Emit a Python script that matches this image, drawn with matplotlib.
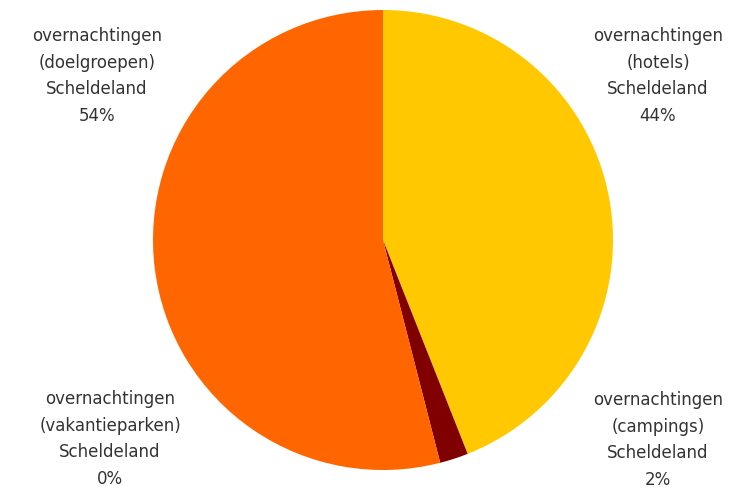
import matplotlib.pyplot as plt

# shares of overnachtingen Scheldeland, clockwise from the top
labels = ['overnachtingen\n(hotels)\nScheldeland',
          'overnachtingen\n(campings)\nScheldeland',
          'overnachtingen\n(vakantieparken)\nScheldeland',
          'overnachtingen\n(doelgroepen)\nScheldeland']
values = [44, 2, 0, 54]
colors = ['#FFC800', '#800000', '#FF9900', '#FF6600']

W, H = 743, 495
fig = plt.figure(figsize=(W / 100, H / 100), dpi=100)

cx, cy, r = 383, 240, 230
ax = fig.add_axes([(cx - r) / W, (H - cy - r) / H, 2 * r / W, 2 * r / H])
ax.pie(values, colors=colors, startangle=90, counterclock=False,
       wedgeprops={'linewidth': 0})
ax.set_aspect('equal')
ax.set_xlim(-1, 1)
ax.set_ylim(-1, 1)

# label block centres in pixels (x, y from top)
label_pos = [(658, 76), (658, 440), (110, 439), (97, 76)]
for lab, v, (x, y) in zip(labels, values, label_pos):
    fig.text(x / W, 1 - y / H, f'{lab}\n{v}%', ha='center', va='center',
             fontsize=12, color='#333333', linespacing=1.6,
             family='DejaVu Sans')

fig.savefig('out.png', dpi=100)
